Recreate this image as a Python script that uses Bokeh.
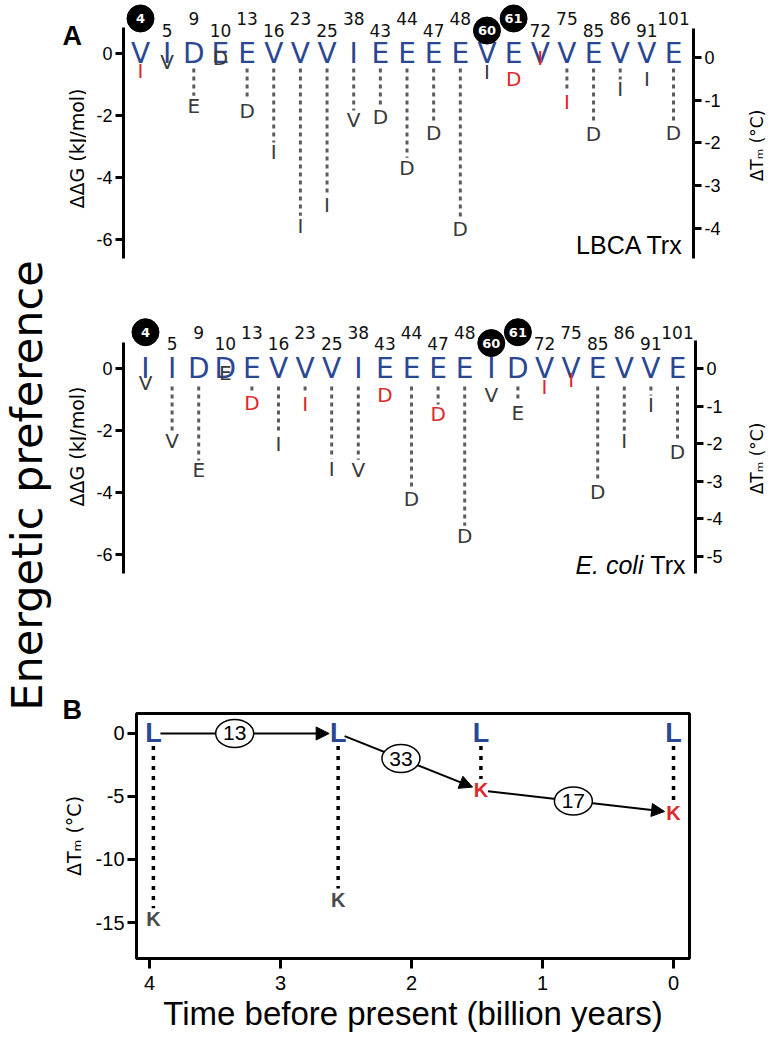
import math
from bokeh.plotting import figure
from bokeh.layouts import row, column
from bokeh.models import Range1d, LinearAxis, FixedTicker, ColumnDataSource, Arrow, NormalHead
from bokeh.core.properties import value
from bokeh.embed import file_html
from bokeh.resources import INLINE

# ---------------- data ----------------
positions = [4, 5, 9, 10, 13, 16, 23, 25, 38, 43, 44, 47, 48, 60, 61, 72, 75, 85, 86, 91, 101]
circled_positions = [4, 60, 61]

lbca_residues = list("VIDEEVVVIEEEEVEVVEVVE")
lbca_mutants = list("IVEDDIIIVDDDDIDIIDIID")
lbca_ddg = [-0.55, -0.29, -1.68, -0.16, -1.84, -3.19, -5.55, -4.90, -2.16, -2.06, -3.68,
            -2.55, -5.65, -0.61, -0.81, -0.13, -1.58, -2.61, -1.16, -0.81, -2.58]
lbca_red_positions = [4, 61, 72, 75]

ecoli_residues = list("IIDDEVVVIEEEEIDVVEVVE")
ecoli_mutants = list("VVEEDIIIVDDDDVEIIDIID")
ecoli_ddg = [-0.48, -2.35, -3.29, -0.16, -1.10, -2.42, -1.13, -3.23, -3.26, -0.87, -4.20,
             -1.48, -5.39, -0.84, -1.42, -0.60, -0.38, -3.97, -2.35, -1.19, -2.70]
ecoli_red_positions = [13, 23, 43, 47, 72, 75]

ddg_ticks = [0, -2, -4, -6]
lbca_tm_ticks = [0, -1, -2, -3, -4]
ecoli_tm_ticks = [0, -1, -2, -3, -4, -5]

b_times = [3.97, 2.56, 1.47, 0.0]
b_L_dtm = [0, 0, 0, 0]
b_K_dtm = [-14.76, -13.2, -4.52, -6.27]
b_K_red = [False, False, True, True]
b_path_state = ["L", "L", "K", "K"]
b_step_counts = ["13", "33", "17"]
b_time_ticks = [4, 3, 2, 1, 0]
b_dtm_ticks = [0, -5, -10, -15]

# ---------------- style ----------------
BLUE = "#2a4794"
RED = "#dd2a2a"
GREY = "#3a3a3a"
DOT = "#5c5c5c"
SANS = "DejaVu Sans"
ARIAL = "Liberation Sans"
PAGE_H = 1045


def style_axis(ax, ticks, size, tick_out=8, standoff=3):
    ax.ticker = FixedTicker(ticks=ticks)
    ax.major_label_overrides = {t: str(t) for t in ticks}
    ax.axis_line_width = 3
    ax.axis_line_color = "black"
    ax.major_tick_line_width = 3
    ax.major_tick_out = tick_out
    ax.major_tick_in = 0
    ax.minor_tick_line_color = None
    ax.major_label_text_font = ARIAL
    ax.major_label_text_font_size = size
    ax.major_label_text_color = "black"
    ax.major_label_standoff = standoff
    ax.axis_label_text_font_style = "normal"


def blank_fig(x0, x1, top, bottom):
    """Narrow figure used only for labels; coordinates are page pixels (y from page bottom)."""
    f = figure(width=x1 - x0, height=bottom - top, x_range=Range1d(x0, x1),
               y_range=Range1d(PAGE_H - bottom, PAGE_H - top), toolbar_location=None,
               output_backend="svg", x_axis_location=None, y_axis_location=None, min_border=0)
    f.outline_line_color = None
    f.grid.visible = False
    return f


def label(f, x, y, text, size, font=SANS, angle=0.0, align="center", baseline="middle",
          style="normal", color="black"):
    f.text(x=[x], y=[PAGE_H - y], text=[text], angle=angle, text_font=value(font),
           text_font_size=size, text_align=align, text_baseline=baseline,
           text_font_style=style, text_color=color)


def panel_a(residues, mutants, ddg, red_positions, tm_ticks, height, xr, yr, tmr,
            ddg_bounds, tm_bounds, border_right, row_hi, row_lo, line_start):
    p = figure(width=654, height=height, x_range=Range1d(*xr), y_range=Range1d(*yr),
               toolbar_location=None, output_backend="svg", x_axis_location=None,
               y_axis_location="left", min_border_left=37, min_border_right=border_right,
               min_border_top=0, min_border_bottom=0)
    p.outline_line_color = None
    p.grid.visible = False
    p.extra_y_ranges = {"tm": Range1d(*tmr)}

    ax = p.yaxis[0]
    ax.bounds = ddg_bounds
    style_axis(ax, ddg_ticks, "18px")

    axr = LinearAxis(y_range_name="tm", bounds=tm_bounds)
    style_axis(axr, tm_ticks, "18px")
    p.add_layout(axr, "right")

    idx = list(range(len(positions)))
    sx, sy0, sy1 = [], [], []
    for i, d in zip(idx, ddg):
        end = d + 0.32
        if end < line_start - 0.05:
            sx.append(i); sy0.append(line_start); sy1.append(end)
    p.segment(x0=sx, y0=sy0, x1=sx, y1=sy1, line_color=DOT, line_width=3, line_dash="4 4")

    p.text(x=idx, y=[0] * len(idx), text=residues, text_color=BLUE, text_font=value(SANS),
           text_font_size="28px", text_align="center", text_baseline="middle")
    mcol = [RED if pos in red_positions else GREY for pos in positions]
    src = ColumnDataSource(dict(x=idx, y=ddg, t=mutants, c=mcol))
    p.text(x="x", y="y", text="t", text_color="c", source=src, text_font=value(SANS),
           text_font_size="20px", text_align="center", text_baseline="middle")

    ny = [row_hi if i % 2 == 0 else row_lo for i in idx]
    plain = [i for i in idx if positions[i] not in circled_positions]
    circ = [i for i in idx if positions[i] in circled_positions]
    p.text(x=plain, y=[ny[i] for i in plain], text=[str(positions[i]) for i in plain],
           text_color="#111111", text_font=value(SANS), text_font_size="17px",
           text_align="center", text_baseline="middle")
    p.scatter(x=circ, y=[ny[i] for i in circ], size=27, marker="circle",
              fill_color="black", line_color="black")
    p.text(x=circ, y=[ny[i] for i in circ], text=[str(positions[i]) for i in circ],
           text_color="white", text_font=value(SANS), text_font_size="13px",
           text_font_style="bold", text_align="center", text_baseline="middle")
    return p


# ---------- panel A, top (LBCA) ----------
pa1 = panel_a(lbca_residues, lbca_mutants, lbca_ddg, lbca_red_positions, lbca_tm_ticks,
              290, (-0.638, 20.75), (-7.645, 1.7097), (-5.4567, 1.3349),
              (-6.61, 0.84), (-4.71, 0.68), 47, 1.13, 0.74, -0.48)
pa1.text(x=[20.375], y=[-6.19], text=["LBCA Trx"], text_font=value(ARIAL),
         text_font_size="25px", text_align="right", text_baseline="middle", text_color="black")
a1_left = blank_fig(58, 86, 0, 290)
label(a1_left, 62, 35, "A", "27px", font=ARIAL, align="left", baseline="alphabetic", style="bold")
label(a1_left, 76, 148, "ΔΔG (kJ/mol)", "19px", angle=math.pi / 2)
a1_right = blank_fig(740, 771, 0, 290)
label(a1_right, 756, 145, "ΔTₘ (°C)", "17px", angle=math.pi / 2)

# ---------- panel A, bottom (E. coli) ----------
pa2 = panel_a(ecoli_residues, ecoli_mutants, ecoli_ddg, ecoli_red_positions, ecoli_tm_ticks,
              310, (-0.827, 20.677), (-7.484, 2.516), (-6.171, 2.074),
              (-6.61, 0.84), (-5.45, 0.745), 45, 1.17, 0.82, -0.58)
pa2.text(x=[20.3], y=[-6.35], text=["Trx"], text_font=value(ARIAL),
         text_font_size="25px", text_align="right", text_baseline="middle", text_color="black")
pa2.text(x=[20.3], y=[-6.35], text=["E. coli"], text_font=value(ARIAL), x_offset=-42,
         text_font_size="25px", text_font_style="italic", text_align="right",
         text_baseline="middle", text_color="black")
a2_left = blank_fig(58, 86, 290, 600)
label(a2_left, 76, 446, "ΔΔG (kJ/mol)", "19px", angle=math.pi / 2)
a2_right = blank_fig(740, 771, 290, 600)
label(a2_right, 756, 458, "ΔTₘ (°C)", "17px", angle=math.pi / 2)

# ---------- panel B ----------
BW, BH, BL, BR, BT, BB = 713, 445, 78, 82, 113, 87
bx = (4.099, -0.122)
by = (-17.857, 1.587)
pb = figure(width=BW, height=BH, x_range=Range1d(*bx), y_range=Range1d(*by),
            toolbar_location=None, output_backend="svg", title="B",
            min_border_left=BL, min_border_right=BR, min_border_top=BT, min_border_bottom=BB)
pb.title.text_font = ARIAL
pb.title.text_font_size = "27px"
pb.title.text_font_style = "bold"
pb.title.text_color = "black"
pb.title.align = "left"
pb.title.offset = -74
try:
    pb.title.standoff = -22
except Exception:
    pass
pb.grid.visible = False
pb.outline_line_color = "black"
pb.outline_line_width = 3
pb.outline_line_alpha = 1
xax = pb.xaxis[0]
style_axis(xax, b_time_ticks, "20px", tick_out=10, standoff=7)
xax.axis_label = "Time before present (billion years)"
xax.axis_label_text_font = ARIAL
xax.axis_label_text_font_size = "33px"
xax.axis_label_text_color = "black"
xax.axis_label_standoff = 2
yax = pb.yaxis[0]
style_axis(yax, b_dtm_ticks, "20px", tick_out=9, standoff=3)
yax.axis_label = "ΔTₘ (°C)"
yax.axis_label_text_font = SANS
yax.axis_label_text_font_size = "19px"
yax.axis_label_text_color = "black"
yax.axis_label_standoff = 8

pb.segment(x0=b_times, y0=[v - 1.0 for v in b_L_dtm], x1=b_times,
           y1=[v + 0.9 for v in b_K_dtm], line_color="black", line_width=3.5, line_dash="4 6")

px_x = (BW - BL - BR) / abs(bx[1] - bx[0])
px_y = (BH - BT - BB) / abs(by[1] - by[0])
path_y = [b_L_dtm[i] if s == "L" else b_K_dtm[i] for i, s in enumerate(b_path_state)]
label_frac = [0.44, 0.44, 0.48]
mx, my = [], []
for i in range(len(b_times) - 1):
    x0p, y0p = -b_times[i] * px_x, path_y[i] * px_y
    x1p, y1p = -b_times[i + 1] * px_x, path_y[i + 1] * px_y
    L = math.hypot(x1p - x0p, y1p - y0p)
    ux, uy = (x1p - x0p) / L, (y1p - y0p) / L
    gs, ge = 7, 9
    xs, ys = x0p + ux * gs, y0p + uy * gs
    xe, ye = x1p - ux * ge, y1p - uy * ge
    pb.add_layout(Arrow(end=NormalHead(size=13, fill_color="black", line_color="black"),
                        x_start=-xs / px_x, y_start=ys / px_y, x_end=-xe / px_x, y_end=ye / px_y,
                        line_width=2, line_color="black", level="underlay"))
    f = label_frac[i]
    mx.append(b_times[i] + (b_times[i + 1] - b_times[i]) * f)
    my.append(path_y[i] + (path_y[i + 1] - path_y[i]) * f)

pb.ellipse(x=mx, y=my, width=38, height=28, width_units="screen", height_units="screen",
           fill_color="white", line_color="black", line_width=1.5)
pb.text(x=mx, y=my, text=b_step_counts, text_font=value(ARIAL), text_font_size="21px",
        text_align="center", text_baseline="middle", text_color="black")
pb.text(x=b_times, y=b_L_dtm, text=["L"] * len(b_times), text_color=BLUE, text_font=value(ARIAL),
        text_font_size="27px", text_font_style="bold", text_align="center", text_baseline="middle")
kcol = [RED if r else "#4a4a4a" for r in b_K_red]
pb.text(x=b_times, y=b_K_dtm, text=["K"] * len(b_times), text_color=kcol, text_font=value(ARIAL),
        text_font_size="20px", text_font_style="bold", text_align="center", text_baseline="middle")

# ---------- shared vertical label ----------
pt = blank_fig(0, 58, 0, 1045)
label(pt, 26, 485, "Energetic preference", "43px", font=SANS, angle=math.pi / 2)

layout = row(pt, column(row(a1_left, pa1, a1_right),
                        row(a2_left, pa2, a2_right),
                        pb))
open("out.html", "w").write(file_html(layout, INLINE))
